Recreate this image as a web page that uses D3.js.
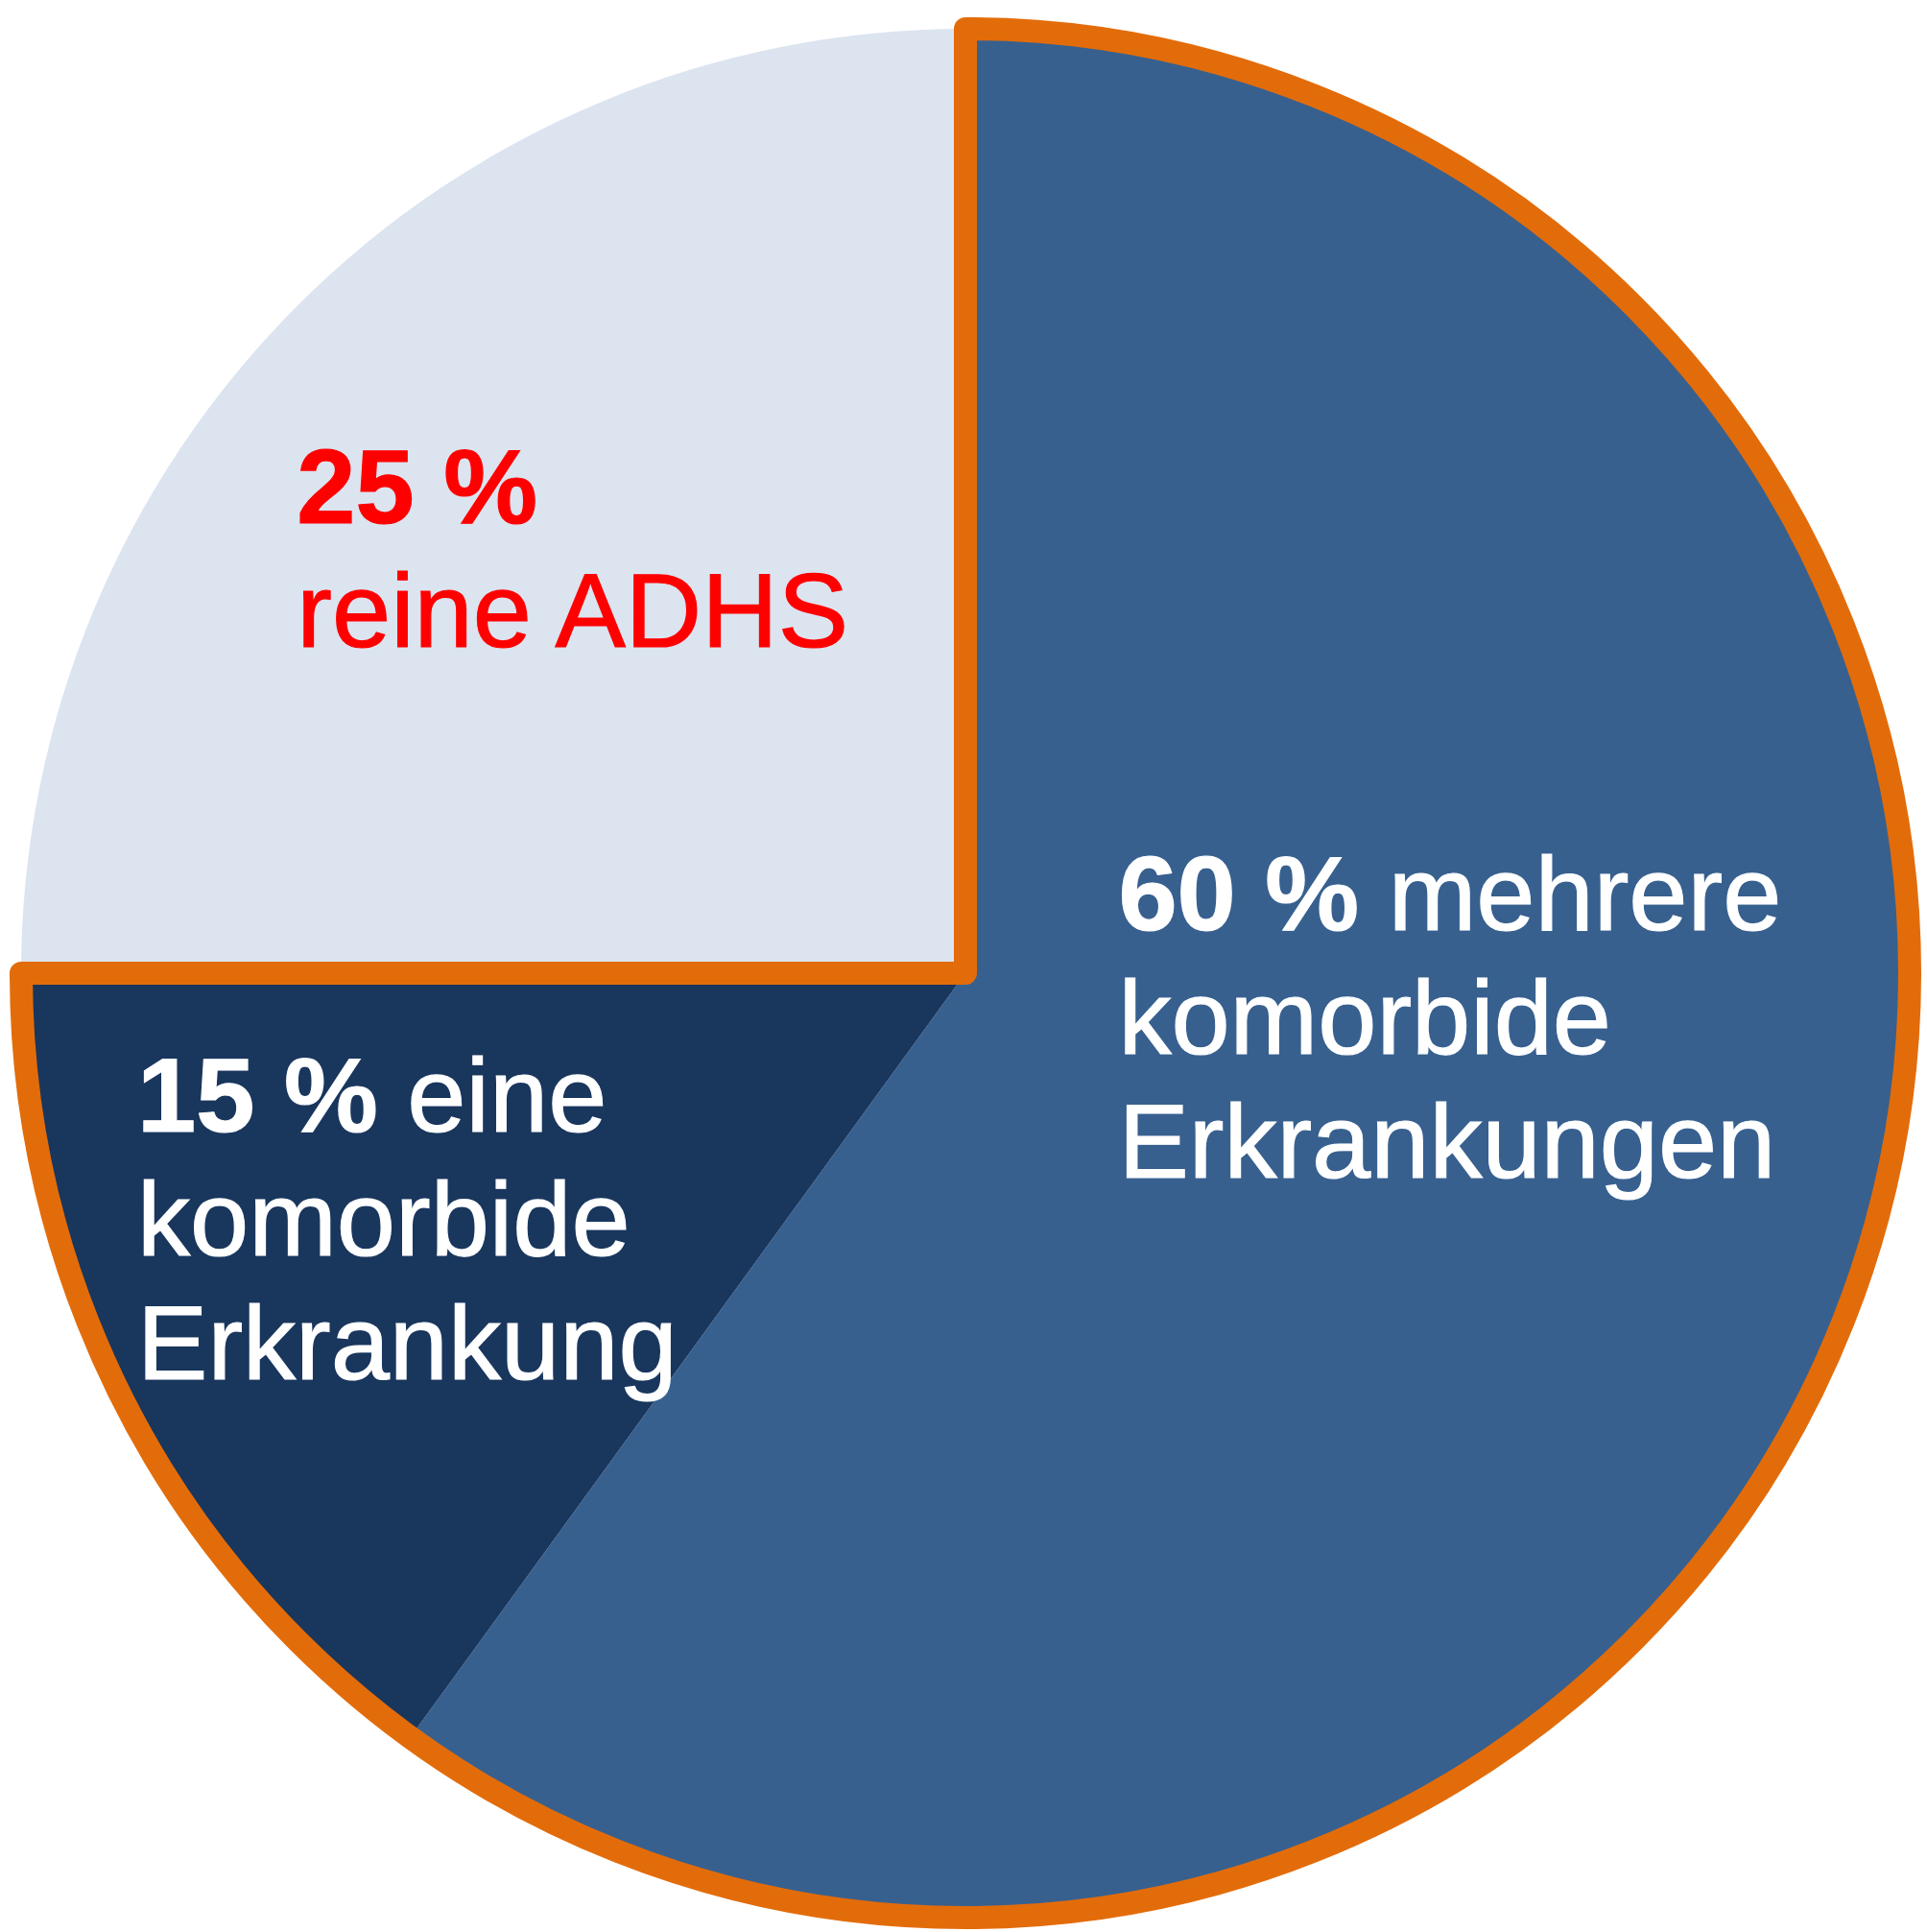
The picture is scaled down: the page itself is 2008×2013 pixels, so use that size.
<!DOCTYPE html>
<html>
<head>
  <meta charset="UTF-8">
  <title>ADHS Komorbidität</title>
  <style>
    body { margin: 0; background: #fff; }
    text { font-family: "Liberation Sans", Arial, sans-serif; }
  </style>
</head>
<body>
  <div class="svg-zone"></div>
  <script src="https://cdn.jsdelivr.net/npm/d3@7"></script>
  <script type="text/javascript">
  // Anteile in Prozent, im Uhrzeigersinn ab 12 Uhr
  let categories = ["mehrere", "eine", "reine"];
  let values = [60, 15, 25];
  let colors = ["#37608f", "#19365d", "#dce4f0"];
  // Beschriftung: erste Zeile fett (Prozent), Rest normal
  let labelBold = ["60 %", "15 %", "25 %"];
  let labelLines = [
    [" mehrere", "komorbide", "Erkrankungen"],
    [" eine", "komorbide", "Erkrankung"],
    ["", "reine ADHS"]
  ];
  let labelColor = ["#ffffff", "#ffffff", "#ff0000"];
  // welche Segmente orange umrandet werden (komorbid = 75 %)
  let outlined = [true, true, false];

  var width = 2008,
    height = 2013,
    cx = 1006,
    cy = 1014,
    radius = 984,
    fontSize = 110,
    lineH = 129;

  var svg = d3.select(".svg-zone").append("svg")
    .attr("width", width)
    .attr("height", height);

  var g = svg.append("g")
    .attr("transform", "translate(" + cx + "," + cy + ")");

  var pie = d3.pie().sort(null).value(function (d) { return d; });
  var arcs = pie(values);
  var arc = d3.arc().innerRadius(0).outerRadius(radius);

  g.selectAll(".slice")
    .data(arcs)
    .enter().append("path")
    .attr("class", "slice")
    .attr("d", arc)
    .style("fill", function (d, i) { return colors[i]; });

  // orange Umrandung um alle komorbiden Segmente zusammen
  var sel = arcs.filter(function (d, i) { return outlined[i]; });
  var start = d3.min(sel, function (d) { return d.startAngle; });
  var end = d3.max(sel, function (d) { return d.endAngle; });
  g.append("path")
    .attr("d", arc({ startAngle: start, endAngle: end }))
    .style("fill", "none")
    .style("stroke", "#e36c0a")
    .style("stroke-width", 24)
    .style("stroke-linejoin", "round");

  // Position der Textblöcke relativ zur Mitte (Anteil vom Radius)
  var labelPos = [[0.162, -0.046], [-0.877, 0.168], [-0.708, -0.477]];

  labelBold.forEach(function (b, i) {
    var t = g.append("text")
      .attr("x", labelPos[i][0] * radius)
      .attr("y", labelPos[i][1] * radius)
      .style("font-size", fontSize + "px")
      .style("fill", labelColor[i])
      .style("stroke", labelColor[i])
      .style("stroke-width", 1.2);
    var first = t.append("tspan");
    first.append("tspan").style("font-weight", "bold").text(b);
    first.append("tspan").style("white-space", "pre").text(labelLines[i][0]);
    labelLines[i].slice(1).forEach(function (line) {
      t.append("tspan")
        .attr("x", labelPos[i][0] * radius)
        .attr("dy", lineH)
        .text(line);
    });
  });
  </script>
</body>
</html>
